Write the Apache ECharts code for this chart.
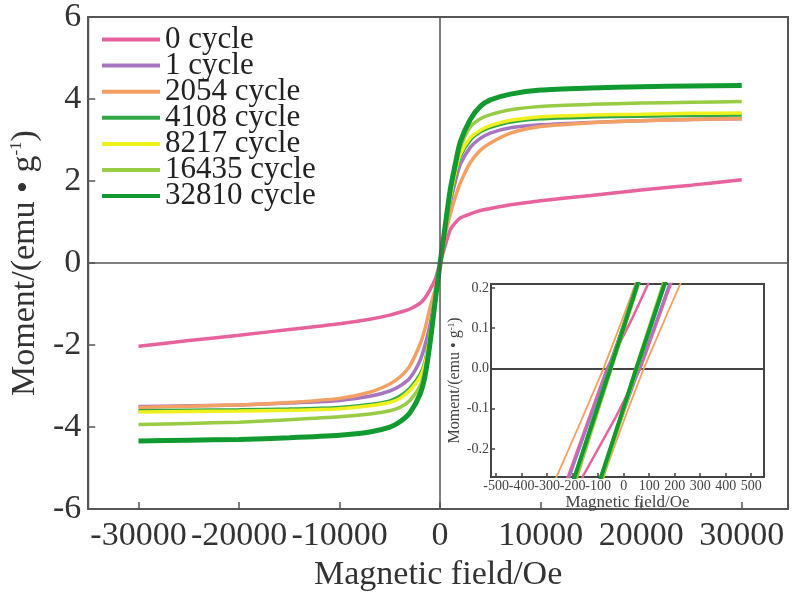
<!DOCTYPE html>
<html>
<head>
<meta charset="utf-8">
<script src="https://cdn.jsdelivr.net/npm/echarts@6/dist/echarts.min.js"></script>
<style>
html, body { margin: 0; padding: 0; background: #fff; }
#main { width: 793px; height: 597px; }
</style>
</head>
<body>
<div id="main"></div>
<script>
// 图例名称
var cycles = ['0 cycle', '1 cycle', '2054 cycle', '4108 cycle', '8217 cycle', '16435 cycle', '32810 cycle'];

// 主图：磁场 (Oe)
var fields = [-30000, -25000, -20000, -15000, -10000, -7000, -5000, -4000, -3000, -2000, -1500, -1000, -500, 0,
	500, 1000, 1500, 2000, 3000, 4000, 5000, 7000, 10000, 15000, 20000, 25000, 30000];
// 主图：磁矩 (emu/g)
var m0 = [-2.03, -1.89, -1.76, -1.62, -1.48, -1.37, -1.27, -1.20, -1.12, -0.98, -0.85, -0.65, -0.40, 0,
	0.42, 0.81, 0.98, 1.10, 1.20, 1.28, 1.33, 1.42, 1.52, 1.65, 1.78, 1.90, 2.03];
var m1 = [-3.50, -3.48, -3.46, -3.41, -3.35, -3.25, -3.12, -3.00, -2.80, -2.38, -2.00, -1.50, -0.78, 0,
	0.75, 1.45, 1.98, 2.40, 2.82, 3.04, 3.17, 3.30, 3.37, 3.43, 3.47, 3.50, 3.52];
var m2054 = [-3.52, -3.49, -3.46, -3.40, -3.30, -3.15, -2.95, -2.78, -2.50, -1.98, -1.60, -1.08, -0.65, 0,
	0.68, 1.18, 1.60, 1.95, 2.45, 2.75, 2.93, 3.17, 3.33, 3.42, 3.47, 3.50, 3.52];
var m4108 = [-3.60, -3.59, -3.58, -3.56, -3.52, -3.45, -3.36, -3.25, -3.05, -2.72, -2.40, -1.70, -0.84, 0,
	0.82, 1.55, 2.15, 2.60, 3.00, 3.20, 3.31, 3.44, 3.52, 3.56, 3.58, 3.60, 3.61];
var m8217 = [-3.63, -3.62, -3.61, -3.59, -3.55, -3.48, -3.40, -3.30, -3.10, -2.78, -2.45, -1.75, -0.85, 0,
	0.82, 1.58, 2.20, 2.65, 3.05, 3.24, 3.35, 3.48, 3.57, 3.61, 3.63, 3.65, 3.66];
var m16435 = [-3.94, -3.91, -3.88, -3.82, -3.75, -3.68, -3.60, -3.52, -3.35, -3.00, -2.60, -1.85, -0.90, 0,
	0.86, 1.70, 2.30, 2.82, 3.32, 3.52, 3.62, 3.74, 3.82, 3.87, 3.90, 3.92, 3.94];
var m32810 = [-4.34, -4.32, -4.30, -4.26, -4.20, -4.12, -4.00, -3.87, -3.65, -3.20, -2.75, -1.95, -0.95, 0,
	0.90, 1.78, 2.40, 2.95, 3.50, 3.82, 3.98, 4.12, 4.22, 4.27, 4.30, 4.32, 4.33];

// 插图：回线两支 [H, M]
var pinkL = [[-236, -0.3], [-140, -0.13], [-66, 0], [30, 0.12], [98, 0.213], [140, 0.3]];
var pinkR = [[-180, -0.3], [-157, -0.265], [-30, -0.12], [66, 0], [140, 0.13], [236, 0.3]];
var purpleL = [[-229, -0.3], [-62, 0], [108, 0.3]];
var purpleR = [[-108, -0.3], [62, 0], [229, 0.3]];
var orangeL = [[-284, -0.3], [-170, -0.135], [-79, 0], [-20, 0.097], [40, 0.2], [96, 0.3]];
var orangeR = [[-96, -0.3], [-40, -0.2], [20, -0.097], [79, 0], [170, 0.135], [284, 0.3]];
var g4108L = [[-206, -0.3], [-54, 0], [98, 0.3]];
var g4108R = [[-102, -0.3], [52, 0], [206, 0.3]];
var yellowL = [[-204, -0.3], [-52, 0], [100, 0.3]];
var yellowR = [[-100, -0.3], [51, 0], [204, 0.3]];
var lgL = [[-200, -0.3], [-50, 0], [102, 0.3]];
var lgR = [[-98, -0.3], [49, 0], [202, 0.3]];
var dgL = [[-208, -0.3], [-52, 0], [100, 0.3]];
var dgR = [[-104, -0.3], [50, 0], [208, 0.3]];

// 刻度
var mainTicksX = [-30000, -20000, -10000, 0, 10000, 20000, 30000];
var insetTicksX = [-500, -400, -300, -200, -100, 0, 100, 200, 300, 400, 500];
var insetTicksY = [-0.2, -0.1, 0, 0.1, 0.2];

var colors = ['#e8629e', '#a677c0', '#f4a064', '#2fa84a', '#f0f01e', '#98cc44', '#119a30'];
var widths = [3.5, 3.5, 3.5, 3.5, 3.5, 3.5, 5];
var insetWidths = [2.5, 2.5, 1.8, 4, 4, 4, 4];
var moments = [m0, m1, m2054, m4108, m8217, m16435, m32810];
var insetL = [pinkL, purpleL, orangeL, g4108L, yellowL, lgL, dgL];
var insetR = [pinkR, purpleR, orangeR, g4108R, yellowR, lgR, dgR];

var FONT = 'Liberation Serif';
var axisColor = '#555';

var series = [];
for (var i = 0; i < cycles.length; i++) {
	var data = [];
	for (var j = 0; j < fields.length; j++) {
		data.push([fields[j], moments[i][j]]);
	}
	var s = {
		name: cycles[i],
		type: 'line',
		data: data,
		showSymbol: false,
		smooth: 0.25,
		lineStyle: { color: colors[i], width: widths[i] },
		itemStyle: { color: colors[i] },
		animation: false,
		silent: true
	};
	if (i == 0) { // 零线
		s.markLine = {
			silent: true, animation: false, symbol: ['none', 'none'],
			label: { show: false },
			lineStyle: { type: 'solid', color: axisColor, width: 1.5 },
			data: [{ xAxis: 0 }, { yAxis: 0 }]
		};
	}
	series.push(s);
}
// 插图两支
for (var i = 0; i < cycles.length; i++) {
	var branches = [insetL[i], insetR[i]];
	for (var b = 0; b < 2; b++) {
		var s2 = {
			name: cycles[i],
			type: 'line',
			xAxisIndex: 1,
			yAxisIndex: 1,
			z: 8,
			data: branches[b],
			showSymbol: false,
			lineStyle: { color: colors[i], width: insetWidths[i] },
			itemStyle: { color: colors[i] },
			animation: false,
			silent: true
		};
		if (i == 0 && b == 0) {
			s2.markLine = {
				silent: true, animation: false, symbol: ['none', 'none'],
				label: { show: false },
				lineStyle: { type: 'solid', color: '#444', width: 2 },
				data: [{ yAxis: 0 }]
			};
		}
		series.push(s2);
	}
}

var option = {
	backgroundColor: '#fff',
	textStyle: { fontFamily: FONT },
	legend: {
		data: cycles,
		orient: 'vertical',
		left: 97,
		top: 19,
		icon: 'rect',
		itemWidth: 58,
		itemHeight: 4,
		itemGap: -4.9,
		textStyle: { fontFamily: FONT, fontSize: 31, color: '#222' }
	},
	grid: [
		{ left: 85, right: 5, top: 12, bottom: 85, show: true, borderColor: axisColor, borderWidth: 2 },
		{ left: 491, right: 29, top: 284, bottom: 120, show: true, borderColor: '#444', borderWidth: 2,
			backgroundColor: '#fff', z: 5 }
	],
	xAxis: [
		{
			type: 'value', gridIndex: 0, min: -35000, max: 34600,
			name: 'Magnetic field/Oe', nameLocation: 'middle', nameGap: 48,
			nameTextStyle: { fontFamily: FONT, fontSize: 34, color: '#333' },
			axisLine: { onZero: false, lineStyle: { color: axisColor, width: 2 } },
			axisTick: { inside: true, length: 7, customValues: mainTicksX, lineStyle: { color: axisColor, width: 1.5 } },
			axisLabel: {
				customValues: mainTicksX, margin: 10, fontFamily: FONT, fontSize: 34, color: '#333',
				formatter: function (v) { return String(v); }
			},
			splitLine: { show: false }
		},
		{
			type: 'value', gridIndex: 1, min: -520, max: 550,
			name: 'Magnetic field/Oe', nameLocation: 'middle', nameGap: 13,
			nameTextStyle: { fontFamily: FONT, fontSize: 17, color: '#444' },
			axisLine: { onZero: false, lineStyle: { color: '#444', width: 2 } },
			axisTick: { inside: true, length: 4, customValues: insetTicksX, lineStyle: { color: '#444', width: 1.5 } },
			axisLabel: {
				customValues: insetTicksX, margin: 2, fontFamily: FONT, fontSize: 14, color: '#444',
				formatter: function (v) { return String(v); }
			},
			splitLine: { show: false },
			z: 6
		}
	],
	yAxis: [
		{
			type: 'value', gridIndex: 0, min: -6, max: 6, interval: 2,
			name: '{t|Moment/(emu • g}{s|-1}{t|)}', nameLocation: 'middle', nameGap: 44, nameRotate: 90,
			nameTextStyle: {
				rich: {
					t: { fontFamily: FONT, fontSize: 34, color: '#333' },
					s: { fontFamily: FONT, fontSize: 17, color: '#333', verticalAlign: 'top' }
				}
			},
			axisLine: { onZero: false, lineStyle: { color: axisColor, width: 2 } },
			axisTick: { inside: true, length: 7, lineStyle: { color: axisColor, width: 1.5 } },
			axisLabel: { margin: 7, fontFamily: FONT, fontSize: 34, color: '#333' },
			splitLine: { show: false }
		},
		{
			type: 'value', gridIndex: 1, min: -0.27, max: 0.21,
			name: '{t|Moment/(emu • g}{s|-1}{t|)}', nameLocation: 'middle', nameGap: 28, nameRotate: 90,
			nameTextStyle: {
				rich: {
					t: { fontFamily: FONT, fontSize: 16, color: '#444' },
					s: { fontFamily: FONT, fontSize: 9, color: '#444', verticalAlign: 'top' }
				}
			},
			axisLine: { onZero: false, lineStyle: { color: '#444', width: 2 } },
			axisTick: { inside: true, length: 4, customValues: insetTicksY, lineStyle: { color: '#444', width: 1.5 } },
			axisLabel: {
				customValues: insetTicksY, margin: 2, fontFamily: FONT, fontSize: 14, color: '#444',
				formatter: function (v) { return v.toFixed(1); }
			},
			splitLine: { show: false },
			z: 6
		}
	],
	series: series
};

var myChart = echarts.init(document.getElementById('main'));
myChart.setOption(option);
</script>
</body>
</html>
